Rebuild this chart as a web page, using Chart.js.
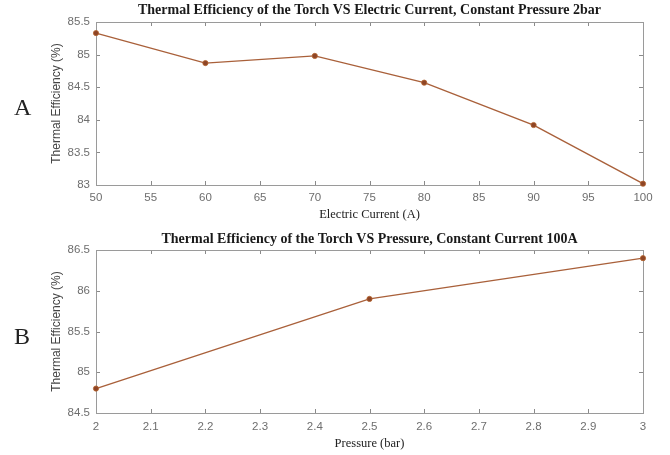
<!DOCTYPE html>
<html>
<head>
<meta charset="utf-8">
<script src="https://cdn.jsdelivr.net/npm/chart.js@4/dist/chart.umd.min.js"></script>
<style>
  html, body { margin:0; padding:0; background:#fff; }
  body { width:670px; height:455px; position:relative; overflow:hidden; }
  .wrap { position:absolute; left:0; width:670px; height:230px; }
  .letter { position:absolute; font-family:"Liberation Serif","Times New Roman",serif; font-size:24px; color:#222; }
</style>
</head>
<body>
<div class="wrap" style="top:0px"><canvas id="cA" width="670" height="230"></canvas></div>
<div class="wrap" style="top:225px"><canvas id="cB" width="670" height="230"></canvas></div>
<div class="letter" style="left:14px; top:94px;">A</div>
<div class="letter" style="left:14px; top:323px;">B</div>
<script>
// ---- Data ----
const currentA = [50, 60, 70, 80, 90, 100];
const efficiencyA = [85.33, 84.87, 84.98, 84.57, 83.92, 83.02];
const xTicksA = [50, 55, 60, 65, 70, 75, 80, 85, 90, 95, 100];
const yTicksA = [83, 83.5, 84, 84.5, 85, 85.5];

const pressureB = [2, 2.5, 3];
const efficiencyB = [84.8, 85.9, 86.4];
const xTicksB = [2, 2.1, 2.2, 2.3, 2.4, 2.5, 2.6, 2.7, 2.8, 2.9, 3];
const yTicksB = [84.5, 85, 85.5, 86, 86.5];

const titleA = 'Thermal Efficiency of the Torch VS Electric Current, Constant Pressure 2bar';
const titleB = 'Thermal Efficiency of the Torch VS Pressure, Constant Current 100A';
const xLabelA = 'Electric Current (A)';
const xLabelB = 'Pressure (bar)';
const yLabel = 'Thermal Efficiency (%)';

// ---- Plugins ----
const frameTicks = {
  id: 'frameTicks',
  beforeDatasetsDraw(chart) {
    const {ctx, chartArea: a, scales} = chart;
    ctx.save();
    ctx.strokeStyle = '#8a8a8a';
    ctx.lineWidth = 1;
    const L = 4;
    ctx.beginPath();
    scales.x.ticks.forEach(t => {
      const px = Math.round(scales.x.getPixelForValue(t.value)) + 0.5;
      ctx.moveTo(px, a.bottom); ctx.lineTo(px, a.bottom - L);
      ctx.moveTo(px, a.top); ctx.lineTo(px, a.top + L);
    });
    scales.y.ticks.forEach(t => {
      const py = Math.round(scales.y.getPixelForValue(t.value)) + 0.5;
      ctx.moveTo(a.left, py); ctx.lineTo(a.left + L, py);
      ctx.moveTo(a.right, py); ctx.lineTo(a.right - L, py);
    });
    ctx.stroke();
    ctx.strokeStyle = '#9a9a9a';
    ctx.strokeRect(Math.round(a.left) + 0.5, Math.round(a.top) + 0.5,
                   Math.round(a.right - a.left), Math.round(a.bottom - a.top));
    ctx.restore();
  },
  afterDraw(chart, args, opts) {
    const {ctx, chartArea: a} = chart;
    ctx.save();
    ctx.font = 'bold 14px "Liberation Serif", "Times New Roman", serif';
    ctx.fillStyle = '#1a1a1a';
    ctx.textAlign = 'center';
    ctx.textBaseline = 'middle';
    ctx.fillText(opts.text, (a.left + a.right) / 2, a.top - opts.gap);
    ctx.restore();
  }
};

function makeChart(id, xs, ys, xTicks, yTicks, title, xLabel, topPad, axisH, tickPad, xTitlePad, titleGap) {
  const pts = xs.map((x, i) => ({x: x, y: ys[i]}));
  return new Chart(document.getElementById(id), {
    type: 'line',
    data: {
      datasets: [{
        data: pts,
        borderColor: '#a9603a',
        borderWidth: 1.4,
        pointRadius: 2.6,
        pointBackgroundColor: '#8e4526',
        pointBorderColor: '#b5652f',
        pointBorderWidth: 0.8,
        tension: 0,
        fill: false,
        clip: false
      }]
    },
    options: {
      responsive: false,
      animation: false,
      layout: { padding: { top: topPad, right: 27, left: 0, bottom: 0 } },
      plugins: {
        legend: { display: false },
        tooltip: { enabled: false },
        title: { display: false },
        frameTicks: { text: title, gap: titleGap }
      },
      scales: {
        x: {
          type: 'linear',
          min: xTicks[0],
          max: xTicks[xTicks.length - 1],
          afterBuildTicks: s => { s.ticks = xTicks.map(v => ({value: v})); },
          afterFit: s => { s.height = axisH; },
          grid: { display: true, drawOnChartArea: false, drawTicks: false },
          border: { display: false },
          ticks: {
            padding: tickPad,
            color: '#6e6e6e',
            font: { family: '"Liberation Sans", Arial, sans-serif', size: 11.5 },
            maxRotation: 0,
            autoSkip: false,
            callback: v => String(v)
          },
          title: {
            display: true,
            text: xLabel,
            color: '#222',
            font: { family: '"Liberation Serif", "Times New Roman", serif', size: 12.5 },
            padding: { top: 0, bottom: xTitlePad }
          }
        },
        y: {
          type: 'linear',
          min: yTicks[0],
          max: yTicks[yTicks.length - 1],
          afterBuildTicks: s => { s.ticks = yTicks.map(v => ({value: v})); },
          afterFit: s => { s.width = 96; },
          grid: { display: true, drawOnChartArea: false, drawTicks: false },
          border: { display: false },
          ticks: {
            padding: 6,
            color: '#6e6e6e',
            font: { family: '"Liberation Sans", Arial, sans-serif', size: 11.5 },
            callback: v => String(v)
          },
          title: {
            display: true,
            text: yLabel,
            color: '#444',
            font: { family: '"Liberation Sans", Arial, sans-serif', size: 12 },
            padding: { top: 49, bottom: 0 }
          }
        }
      }
    },
    plugins: [frameTicks]
  });
}

makeChart('cA', currentA, efficiencyA, xTicksA, yTicksA, titleA, xLabelA, 22, 45, 6, 8, 12);
makeChart('cB', pressureB, efficiencyB, xTicksB, yTicksB, titleB, xLabelB, 25, 42, 7, 4, 11);
</script>
</body>
</html>
